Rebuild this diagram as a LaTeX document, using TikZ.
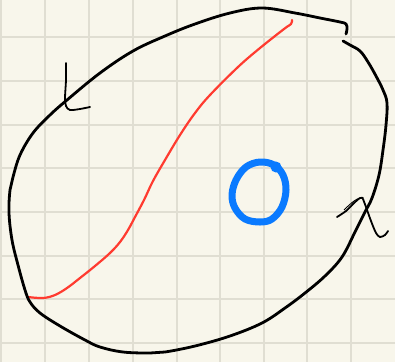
\documentclass[tikz,border=0pt]{standalone}
\definecolor{paper}{HTML}{F8F6EB}
\definecolor{gridc}{HTML}{E0DED2}
\definecolor{inkred}{HTML}{FF3B30}
\definecolor{inkblue}{HTML}{0A7AFF}
\tikzset{
  ink/.style={line width=2.8pt, line cap=round, line join=round, black},
  thinink/.style={line width=1.8pt, line cap=round, line join=round, black},
  redink/.style={line width=2.2pt, line cap=round, line join=round, inkred},
  blueink/.style={line width=7pt, line cap=round, line join=round, inkblue},
  gridline/.style={line width=1.6pt, gridc}
}
\begin{document}
\begin{tikzpicture}[x=1pt,y=-1pt]
\useasboundingbox (0,0) rectangle (395,362);
\fill[paper] (0,0) rectangle (395,362);
% grid
\foreach \gx in {1,45,89,133,177,220,264,307,351}
  \draw[gridline] (\gx,0) -- (\gx,362);
\foreach \gy in {37,81,125,168,212,256,299,343}
  \draw[gridline] (0,\gy) -- (395,\gy);
% red curve
\draw[redink] plot[smooth, tension=0.6] coordinates {
  (28,297) (43,298) (55,295) (67,288) (80,278) (95,266) (110,253) (120,242)
  (128,230) (135,217) (144,200) (153,181) (165,160) (180,135) (195,113)
  (210,95) (238,67) (260,48) (284,29) (291,24) (292,20)};
% black oval
\draw[ink] plot[smooth, tension=0.6] coordinates {
  (343,41) (350,45) (360,51) (368,62) (376,76) (383,90) (387,103) (386,125)
  (383,150) (379,175) (372,198) (365,212) (355,232) (342,257) (325,276)
  (305,293) (285,308) (262,323) (230,336) (195,346) (165,352) (150,353)
  (123,352) (100,347) (85,340) (60,326) (40,313) (30,302) (25,290) (18,265)
  (12,240) (9,213) (10,190) (13,177) (20,155) (33,133) (50,115) (67,100)
  (100,73) (133,51) (165,36) (195,24) (230,13) (262,8) (295,13) (320,18)
  (340,22) (346,24) (347,29) (346,34)};
% L mark
\draw[thinink] plot[smooth, tension=0.5] coordinates {
  (66,63) (66,80) (65,98) (66,106) (70,110) (80,109) (90,107)};
% lambda mark
\draw[thinink] plot[smooth, tension=0.5] coordinates {
  (337,217) (346,211) (354,203) (360,198) (363,198)};
\draw[line width=0.9pt, black] (344,210) .. controls (352,202) and (358,197) .. (363,198);
\draw[thinink] plot[smooth, tension=0.5] coordinates {
  (363,199) (366,207) (371,221) (376,233) (380,237) (385,235) (388,231)};
% blue O
\draw[blueink] plot[smooth cycle, tension=0.6] coordinates {
  (260,162) (274,165) (283,175) (286,190) (282,207) (272,219) (260,222)
  (245,219) (235,208) (232,195) (236,180) (246,167)};
\fill[inkblue] (276,167) circle (5.5);
\end{tikzpicture}
\end{document}
